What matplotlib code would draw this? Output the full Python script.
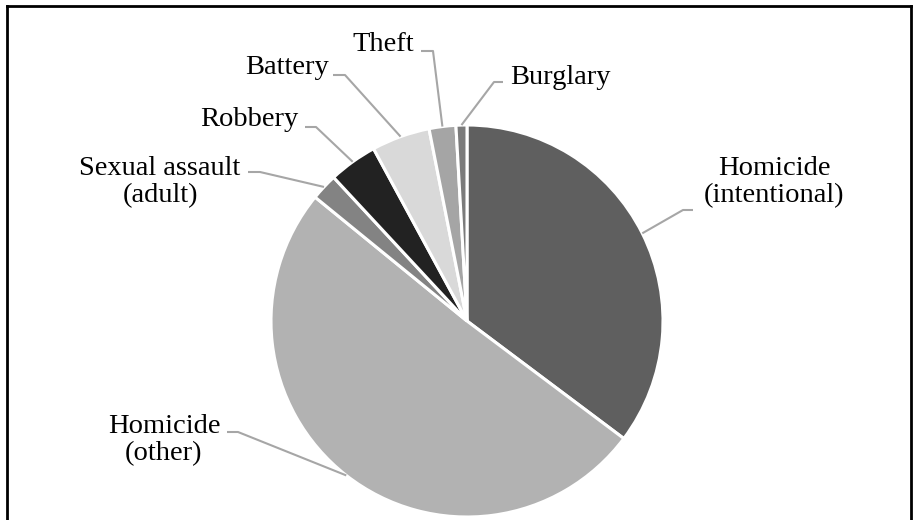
import numpy as np
import matplotlib.pyplot as plt
from matplotlib.lines import Line2D

# crime categories and share of total
labels = ["Homicide\n(intentional)", "Homicide\n(other)", "Sexual assault\n(adult)",
          "Robbery", "Battery", "Theft", "Burglary"]
shares = [35.2, 50.6, 2.2, 4.0, 4.8, 2.2, 0.9]
colors = ["#5f5f5f", "#b2b2b2", "#838383", "#222222", "#d9d9d9", "#a5a5a5", "#7b7b7b"]

# layout in pixels: label centre, leader start (next to label), leader elbow
label_pos = [(774, 182), (164, 440), (160, 182), (249, 119), (287, 67), (383, 44), (560, 77)]
leader_pts = [((693, 210), (683, 210)), ((227, 432), (238, 432)), ((248, 172), (260, 172)),
              ((305, 127), (316, 127)), ((333, 75), (345, 75)), ((421, 51), (433, 51)),
              ((503, 82), (494, 82))]

W, H = 917, 520
cx, cy, r = 467, 321, 196


def to_data(px, py):
    return (px - cx) / r, (cy - py) / r


plt.rcParams['font.family'] = ['Liberation Serif', 'DejaVu Serif']

fig = plt.figure(figsize=(W / 100, H / 100), dpi=100)
ax = fig.add_axes([0, 0, 1, 1])
wedges, _ = ax.pie(shares, colors=colors, startangle=90, counterclock=False, radius=1,
                   wedgeprops=dict(edgecolor='white', linewidth=2.2))
ax.set_xlim(-cx / r, (W - cx) / r)
ax.set_ylim(-(H - cy) / r, cy / r)
ax.axis('off')

for w, lab, pos, (p0, p1) in zip(wedges, labels, label_pos, leader_pts):
    mid = np.deg2rad((w.theta1 + w.theta2) / 2)
    ex, ey = np.cos(mid), np.sin(mid)
    x0, y0 = to_data(*p0)
    x1, y1 = to_data(*p1)
    ax.plot([x0, x1, ex], [y0, y1, ey], color="#a6a6a6", lw=1.5, solid_capstyle='butt')
    tx, ty = to_data(*pos)
    ax.text(tx, ty, lab, ha='center', va='center', fontsize=20.5, linespacing=1.15,
            color="black")

# outer frame
fl = 7 / W
ft = 1 - 6 / H
fr = 911 / W
for xs, ys in [([fl, fr], [ft, ft]), ([fl, fl], [ft, 0]), ([fr, fr], [ft, 0])]:
    fig.add_artist(Line2D(xs, ys, color='black', lw=2))

fig.savefig("out.png", dpi=100)
